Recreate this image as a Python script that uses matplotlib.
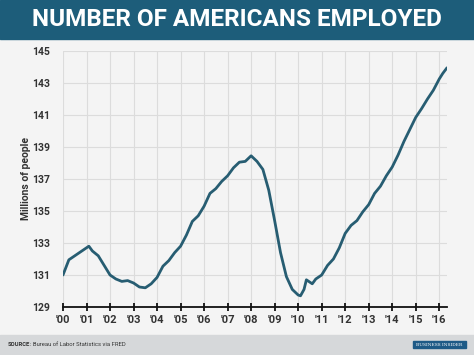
import matplotlib.pyplot as plt
from matplotlib.patches import Rectangle

plt.rcParams['font.family'] = ['Roboto', 'DejaVu Sans']

# nonfarm payroll employment, millions
years = [2000.00, 2000.25, 2000.50, 2000.75, 2001.00, 2001.10, 2001.25, 2001.50, 2001.75,
         2002.00, 2002.25, 2002.50, 2002.75, 2003.00, 2003.25, 2003.50, 2003.75,
         2004.00, 2004.25, 2004.50, 2004.75, 2005.00, 2005.25, 2005.50, 2005.75,
         2006.00, 2006.25, 2006.50, 2006.75, 2007.00, 2007.25, 2007.50, 2007.75,
         2008.00, 2008.25, 2008.50, 2008.75, 2009.00, 2009.25, 2009.50, 2009.75,
         2010.00, 2010.10, 2010.25, 2010.35, 2010.60, 2010.75, 2011.00, 2011.25, 2011.50, 2011.75,
         2012.00, 2012.25, 2012.50, 2012.75, 2013.00, 2013.25, 2013.50, 2013.75,
         2014.00, 2014.25, 2014.50, 2014.75, 2015.00, 2015.25, 2015.50, 2015.75,
         2016.00, 2016.15, 2016.33]
employed = [131.0, 131.95, 132.2, 132.45, 132.7, 132.8, 132.5, 132.2, 131.6,
            131.0, 130.75, 130.6, 130.65, 130.5, 130.25, 130.2, 130.45,
            130.85, 131.55, 131.9, 132.4, 132.8, 133.5, 134.35, 134.7,
            135.3, 136.1, 136.4, 136.85, 137.2, 137.7, 138.05, 138.1,
            138.45, 138.1, 137.6, 136.3, 134.4, 132.4, 130.9, 130.1,
            129.75, 129.7, 130.1, 130.7, 130.45, 130.75, 131.0, 131.6, 132.0, 132.7,
            133.6, 134.1, 134.4, 134.95, 135.4, 136.1, 136.55, 137.2,
            137.75, 138.5, 139.35, 140.1, 140.85, 141.4, 142.0, 142.55,
            143.25, 143.6, 143.95]
xticks = list(range(2000, 2017))
xlabels = ["'%02d" % (y % 100) for y in xticks]
yticks = list(range(129, 146, 2))

bg = '#f4f4f4'
fig = plt.figure(figsize=(4.74, 3.55), dpi=100, facecolor=bg)

# title band
fig.patches.append(Rectangle((0, 1 - 39 / 355), 1, 39 / 355, transform=fig.transFigure,
                             color='#1d5d7a', zorder=0))
fig.text(0.5, 1 - 20 / 355, 'NUMBER OF AMERICANS EMPLOYED', color='white',
         fontsize=17.5, fontweight='bold', ha='center', va='center')

# footer band
fig.patches.append(Rectangle((0, 0), 1, 20 / 355, transform=fig.transFigure,
                             color='#d6d8da', zorder=0))
fig.text(8 / 474, 10 / 355, 'SOURCE', fontsize=4.2, fontweight='bold', color='#333333',
         va='center')
fig.text(30 / 474, 10 / 355, ': Bureau of Labor Statistics via FRED', fontsize=4.2,
         color='#333333', va='center')
fig.patches.append(Rectangle((413 / 474, 7 / 355), 53 / 474, 7 / 355,
                             transform=fig.transFigure, color='#1e5a86', zorder=1))
fig.text(439.5 / 474, 10.5 / 355, 'BUSINESS INSIDER', fontsize=3.2, color='white',
         ha='center', va='center', family='DejaVu Serif', zorder=2)

ax = fig.add_axes([63 / 474, 1 - 307 / 355, 384 / 474, 256 / 355])
ax.set_facecolor(bg)
ax.plot(years, employed, color='#275d72', lw=2, solid_capstyle='round',
        solid_joinstyle='round')

ax.set_xlim(2000, 2016.33)
ax.set_ylim(129, 145)
ax.set_xticks(xticks)
ax.set_xticklabels(xlabels)
ax.set_yticks(yticks)
ax.grid(color='#dcdcdc', lw=0.8)
ax.set_axisbelow(True)
for s in ['top', 'right', 'left']:
    ax.spines[s].set_visible(False)
ax.spines['bottom'].set_color('#111111')
ax.spines['bottom'].set_linewidth(1.3)
ax.tick_params(axis='x', direction='inout', length=6, width=1.3, color='#111111',
               labelsize=8, labelcolor='#333333', pad=3)
ax.tick_params(axis='y', length=0, labelsize=7.5, labelcolor='#333333', pad=9)
for t in ax.get_xticklabels() + ax.get_yticklabels():
    t.set_fontweight('bold')
ax.set_ylabel('Millions of people', fontsize=7.5, color='#333333', fontweight='bold',
              labelpad=1)

fig.savefig('out.png', dpi=100, facecolor=bg)
